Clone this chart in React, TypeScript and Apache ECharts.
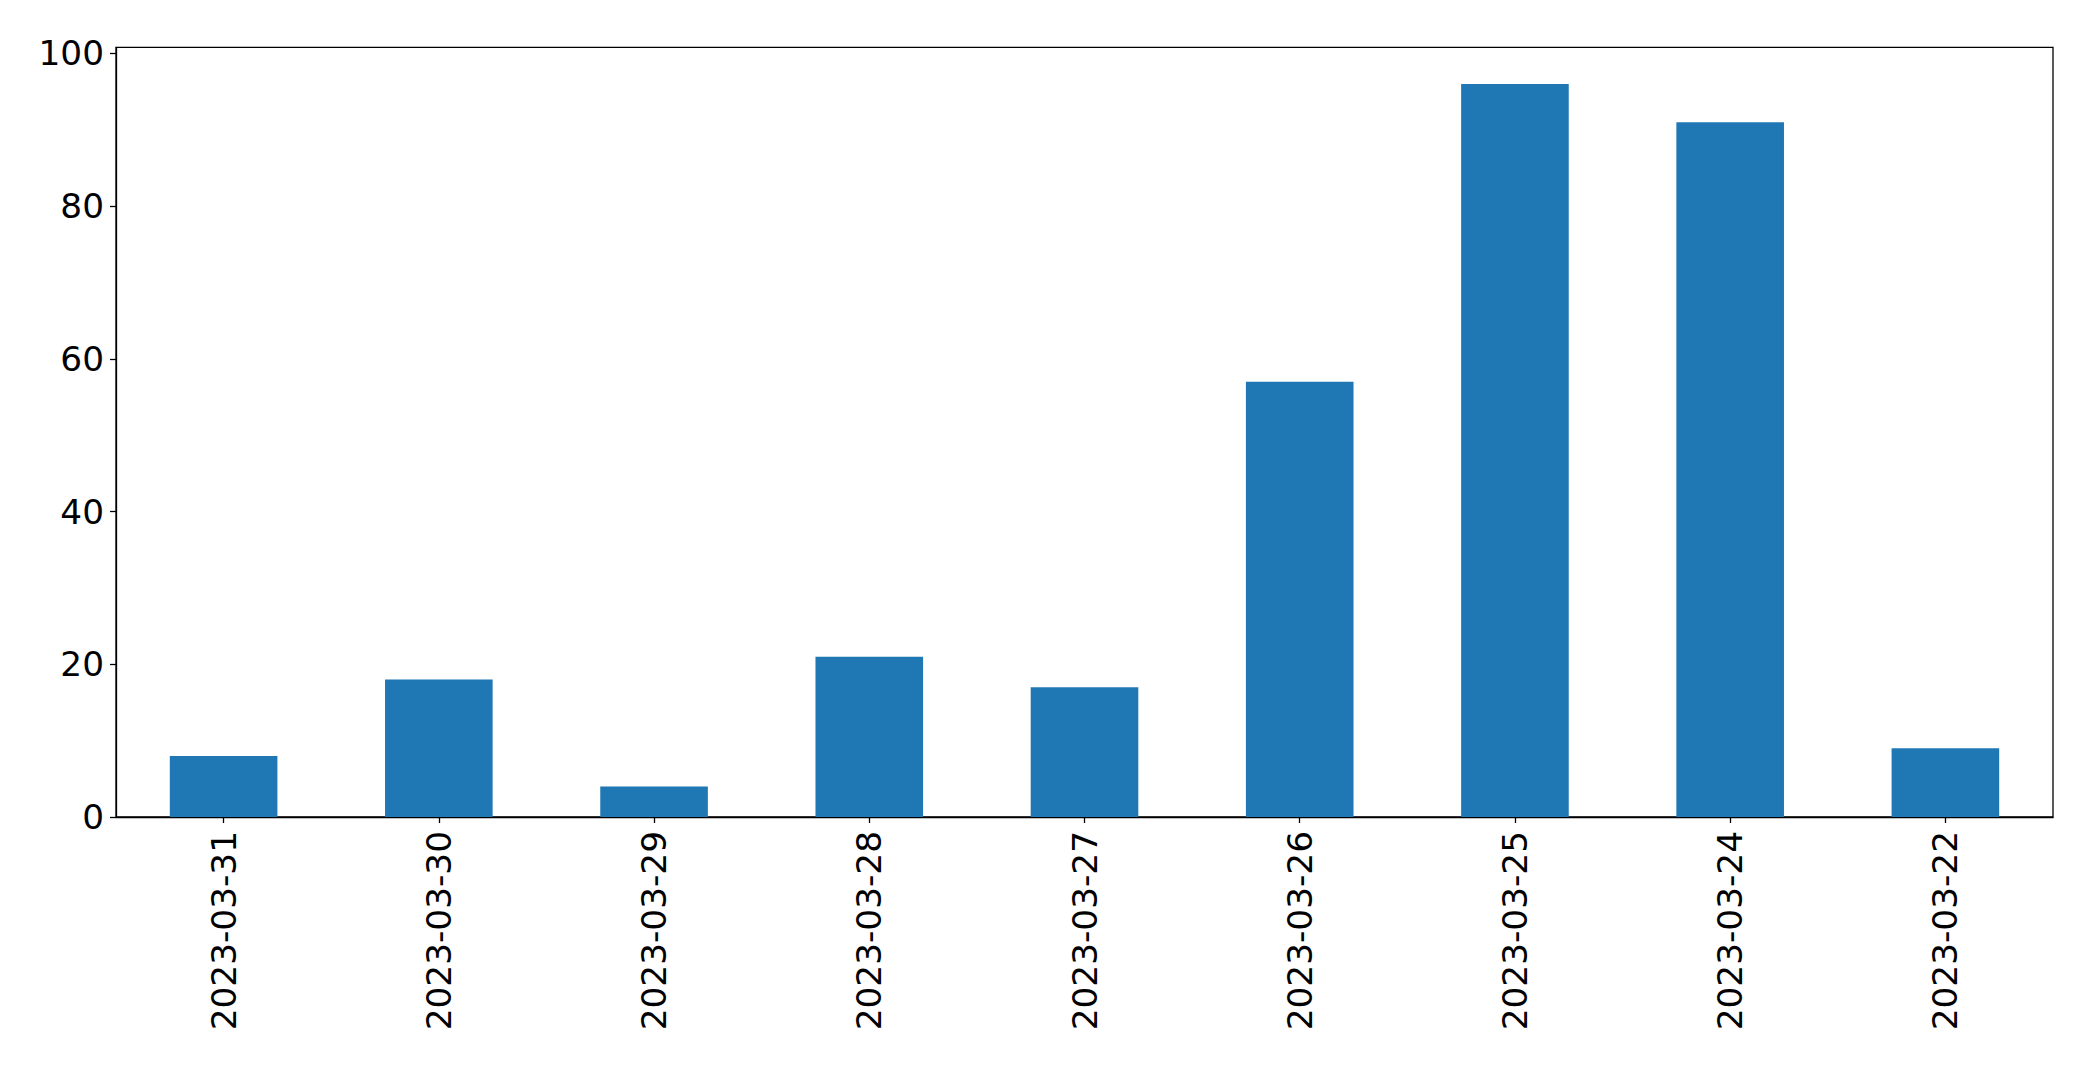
import React, { useEffect, useRef } from "react";
import * as echarts from "echarts";

const categories = [
  "2023-03-31",
  "2023-03-30",
  "2023-03-29",
  "2023-03-28",
  "2023-03-27",
  "2023-03-26",
  "2023-03-25",
  "2023-03-24",
  "2023-03-22",
];
const values = [8, 18, 4, 21, 17, 57, 96, 91, 9];
const yTicks = [0, 20, 40, 60, 80, 100];

export default function App() {
  const ref = useRef<HTMLDivElement>(null);
  useEffect(() => {
    if (!ref.current) return;
    const chart = echarts.init(ref.current, undefined, { renderer: "svg" });
    const font = "DejaVu Sans";
    chart.setOption({
      animation: false,
      backgroundColor: "#ffffff",
      grid: {
        left: 116,
        top: 47.3,
        right: 40,
        bottom: 252,
        show: true,
        borderColor: "#000000",
        borderWidth: 1.3,
        backgroundColor: "transparent",
      },
      xAxis: {
        type: "category",
        data: categories,
        boundaryGap: true,
        axisLine: { show: true, lineStyle: { color: "#000", width: 1.3 } },
        axisTick: { show: true, alignWithLabel: true, length: 6, lineStyle: { color: "#000", width: 1.3 } },
        axisLabel: {
          rotate: 90,
          margin: 14,
          fontFamily: font,
          fontSize: 34.3,
          color: "#000",
          interval: 0,
        },
        splitLine: { show: false },
      },
      yAxis: {
        type: "value",
        min: 0,
        max: 100.8,
        interval: 20,
        axisLine: { show: true, lineStyle: { color: "#000", width: 1.3 } },
        axisTick: { show: true, length: 6, customValues: yTicks, lineStyle: { color: "#000", width: 1.3 } },
        axisLabel: {
          margin: 12,
          fontFamily: font,
          fontSize: 34.3,
          color: "#000",
          customValues: yTicks,
        },
        splitLine: { show: false },
      },
      series: [
        {
          type: "bar",
          data: values,
          barWidth: "50%",
          itemStyle: { color: "#1f77b4" },
        },
      ],
    });
    return () => chart.dispose();
  }, []);
  return (
    <div
      ref={ref}
      style={{ position: "fixed", left: 0, top: 0, width: 2093, height: 1069 }}
    />
  );
}
